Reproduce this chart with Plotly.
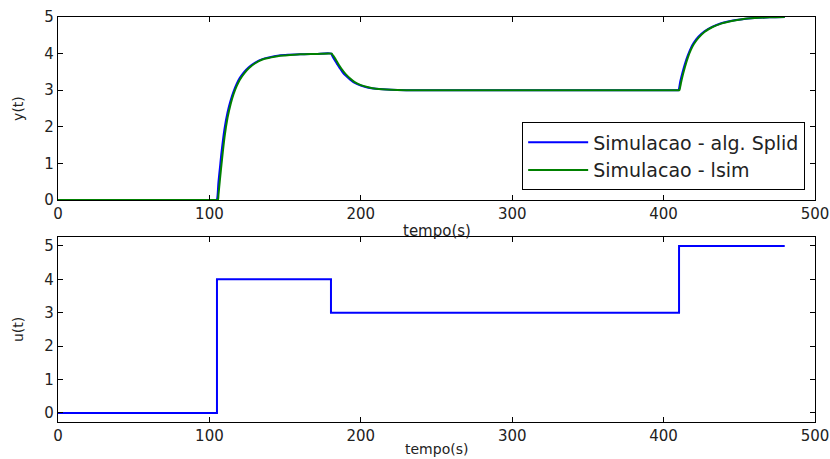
import plotly.graph_objects as go
from plotly.subplots import make_subplots

# ---- data ----
t_splid = [0, 104, 104.8, 106, 107, 108, 110, 112, 114, 116, 118, 120, 123, 126, 130, 135, 140, 145, 150, 160, 170, 180.5,
           181, 182, 184, 186, 188, 190, 193, 196, 200, 205, 210, 220, 230, 300, 409, 409.8,
           411, 412, 414, 416, 418, 420, 423, 427, 432, 438, 445, 452, 460, 470, 480]
y_splid = [0, 0, 0, 0.5, 0.9, 1.3, 1.95, 2.4, 2.72, 2.97, 3.17, 3.33, 3.5, 3.63, 3.75, 3.85, 3.9, 3.94, 3.96, 3.98, 3.99, 4.0,
           3.95, 3.87, 3.74, 3.61, 3.49, 3.4, 3.29, 3.2, 3.13, 3.07, 3.04, 3.01, 3.0, 3.0, 3.0, 3.0,
           3.24, 3.41, 3.71, 3.95, 4.15, 4.3, 4.46, 4.61, 4.73, 4.83, 4.9, 4.94, 4.97, 4.99, 5.0]

t_lsim = [0, 105, 105.6, 106, 107, 108, 110, 112, 114, 116, 118, 120, 123, 126, 130, 135, 140, 145, 150, 160, 170, 180.8,
          181, 182, 184, 186, 188, 190, 193, 196, 200, 205, 210, 220, 230, 300, 409.5, 410.4,
          411, 412, 414, 416, 418, 420, 423, 427, 432, 438, 445, 452, 460, 470, 480]
y_lsim = [0, 0, 0, 0.15, 0.58, 0.98, 1.72, 2.25, 2.62, 2.9, 3.11, 3.28, 3.46, 3.6, 3.73, 3.84, 3.89, 3.93, 3.95, 3.98, 3.99, 4.0,
          3.99, 3.93, 3.8, 3.66, 3.54, 3.44, 3.32, 3.22, 3.14, 3.08, 3.04, 3.01, 3.0, 3.0, 3.0, 3.0,
          3.1, 3.3, 3.62, 3.89, 4.1, 4.26, 4.43, 4.59, 4.72, 4.82, 4.89, 4.94, 4.97, 4.99, 5.0]

t_u = [0, 105, 180.3, 410.2, 480]
u_vals = [0, 4, 3, 5, 5]

x_ticks = [0, 100, 200, 300, 400, 500]
y_ticks = [0, 1, 2, 3, 4, 5]

FONT = "DejaVu Sans"
TXT = "#222222"

fig = make_subplots(rows=2, cols=1, vertical_spacing=0.09)

fig.add_trace(go.Scatter(x=t_splid, y=y_splid, mode="lines", name="Simulacao - alg. Splid",
                         line=dict(color="#0000ff", width=2, shape="spline", smoothing=0.8)), row=1, col=1)
fig.add_trace(go.Scatter(x=t_lsim, y=y_lsim, mode="lines", name="Simulacao - lsim",
                         line=dict(color="#008000", width=2, shape="spline", smoothing=0.8)), row=1, col=1)
fig.add_trace(go.Scatter(x=t_u, y=u_vals, mode="lines", line_shape="hv", showlegend=False,
                         line=dict(color="#0000ff", width=2)), row=2, col=1)

axis_common = dict(showgrid=False, zeroline=False, showline=True, linecolor="black", linewidth=1.3,
                   mirror="ticks", ticks="inside", ticklen=5, tickcolor="black", automargin=False,
                   tickfont=dict(family=FONT, size=15, color=TXT))

fig.update_xaxes(range=[0, 500], tickvals=x_ticks, **axis_common)
fig.update_yaxes(**axis_common)
fig.update_yaxes(range=[0, 5], tickvals=y_ticks, domain=[0.548, 1.0], row=1, col=1)
fig.update_yaxes(range=[-0.27, 5.27], tickvals=y_ticks, domain=[0.0, 0.457], row=2, col=1)
fig.update_yaxes(title=dict(text="y(t)", font=dict(family=FONT, size=14, color=TXT), standoff=17), row=1, col=1)
fig.update_yaxes(title=dict(text="u(t)", font=dict(family=FONT, size=14, color=TXT), standoff=17), row=2, col=1)

fig.add_annotation(text="tempo(s)", xref="paper", yref="paper", x=0.5, y=0.457, xanchor="center",
                   yanchor="bottom", yshift=-5, showarrow=False,
                   font=dict(family=FONT, size=15, color=TXT))
fig.add_annotation(text="tempo(s)", xref="paper", yref="paper", x=0.5, y=0.0, xanchor="center",
                   yanchor="top", yshift=-17, showarrow=False,
                   font=dict(family=FONT, size=14, color=TXT))

fig.update_layout(
    width=830, height=459,
    margin=dict(l=58, r=15, t=17, b=37, autoexpand=False),
    paper_bgcolor="white", plot_bgcolor="white",
    legend=dict(x=0.987, y=0.572, xanchor="right", yanchor="bottom",
                bordercolor="black", borderwidth=1, bgcolor="white",
                font=dict(family=FONT, size=19, color=TXT), tracegroupgap=0,
                itemwidth=60),
)

fig.write_html("out.html")
